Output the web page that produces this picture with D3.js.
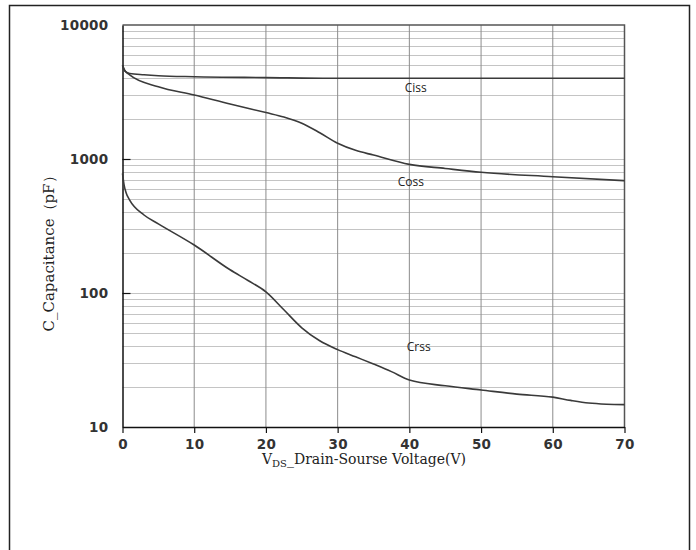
<!DOCTYPE html>
<html>
<head>
<meta charset="utf-8">
<script src="https://cdn.jsdelivr.net/npm/d3@7"></script>
<style>
  body { margin: 0; background: #fff; }
</style>
</head>
<body>
<svg id="chart" width="696" height="550"></svg>
<script>
// voltage points (V) and capacitances (pF)
const cissV = [0, 0.3, 1, 3, 5, 10, 20, 30, 40, 50, 60, 70];
const cissC = [5000, 4550, 4350, 4250, 4180, 4110, 4050, 4000, 4000, 4000, 4000, 4000];

const cossV = [0, 0.3, 1, 5, 10, 15, 20, 22.5, 25, 27.5, 30, 32.5, 35, 40, 45, 50, 60, 70];
const cossC = [5000, 4600, 4240, 3460, 3000, 2570, 2220, 2060, 1850, 1570, 1310, 1160, 1070, 912, 850, 796, 738, 689];

const crssV = [0, 0.2, 0.5, 1, 3, 5, 10, 15, 17.5, 20, 22.5, 25, 27.5, 30, 32.5, 35, 37.5, 40, 45, 50, 55, 60, 62.5, 65, 67.5, 70];
const crssC = [780, 650, 560, 494, 382, 328, 228, 149, 124, 102, 75, 55, 44, 37.8, 33.4, 29.5, 25.9, 22.4, 20.3, 18.9, 17.6, 16.7, 15.8, 15.1, 14.8, 14.7];

const xTicks = [0, 10, 20, 30, 40, 50, 60, 70];
const yTicks = [10, 100, 1000, 10000];

const labels = [
    { text: "Ciss", v: 40.9, c: 3390 },
    { text: "Coss", v: 40.2, c: 673 },
    { text: "Crss", v: 41.3, c: 39.5 }
];

const svg = d3.select("#chart");

// outer frame
svg.append("path")
    .attr("d", "M9.5,560V5.5H689.5V560")
    .attr("fill", "none")
    .attr("stroke", "#222")
    .attr("stroke-width", 1.5);

const x = d3.scaleLinear().domain([0, 70]).range([122.5, 624.5]);
const y = d3.scaleLog().domain([10, 10000]).range([427, 25]);

// horizontal grid (every 1..9 x decade)
const minor = [];
for (let d = 10; d < 10000; d *= 10)
    for (let m = 1; m < 10; m++) if (d * m > 10) minor.push(d * m);

svg.append("g")
    .selectAll("line")
    .data(minor)
    .enter().append("line")
    .attr("x1", x(0)).attr("x2", x(70))
    .attr("y1", d => Math.round(y(d)) + 0.5)
    .attr("y2", d => Math.round(y(d)) + 0.5)
    .attr("stroke", "#c4c4c4")
    .attr("stroke-width", 1);

// vertical grid
svg.append("g")
    .selectAll("line")
    .data(xTicks.slice(1, -1))
    .enter().append("line")
    .attr("x1", d => x(d)).attr("x2", d => x(d))
    .attr("y1", y(10000)).attr("y2", y(10))
    .attr("stroke", "#8c8c8c")
    .attr("stroke-width", 1);

// top and right borders of plot
svg.append("path")
    .attr("d", `M${x(0)},${y(10000)}H${x(70)}V${y(10)}`)
    .attr("fill", "none")
    .attr("stroke", "#555")
    .attr("stroke-width", 1.5);

// axes
const xAxis = svg.append("g")
    .attr("transform", `translate(0,${y(10)})`)
    .call(d3.axisBottom(x).tickValues(xTicks).tickSize(6).tickSizeOuter(0).tickPadding(6));

const yAxis = svg.append("g")
    .attr("transform", `translate(${x(0)},0)`)
    .call(d3.axisLeft(y).tickValues(yTicks).tickFormat(d3.format("d")).tickSize(6).tickSizeOuter(0).tickPadding(8));

// 1000 and 100 ticks cross the axis
yAxis.selectAll(".tick line").attr("x2", d => (d === 100 || d === 1000) ? 8 : 0);

[xAxis, yAxis].forEach(a => {
    a.select(".domain").attr("stroke", "#111").attr("stroke-width", 1.5);
    a.selectAll(".tick line").attr("stroke", "#111").attr("stroke-width", 1.2);
    a.selectAll("text")
        .attr("font-family", "DejaVu Sans, Verdana, sans-serif")
        .attr("font-size", 13.5)
        .attr("font-weight", "bold")
        .attr("letter-spacing", 0.3)
        .attr("fill", "#333");
});

// curves
const line = d3.line()
    .x(d => x(d[0]))
    .y(d => y(d[1]))
    .curve(d3.curveMonotoneX);

[[cissV, cissC], [cossV, cossC], [crssV, crssC]].forEach(([vs, cs]) => {
    svg.append("path")
        .datum(d3.zip(vs, cs))
        .attr("d", line)
        .attr("fill", "none")
        .attr("stroke", "#3a3a3a")
        .attr("stroke-width", 1.6);
});

// curve labels
svg.append("g")
    .selectAll("text")
    .data(labels)
    .enter().append("text")
    .attr("x", d => x(d.v))
    .attr("y", d => y(d.c))
    .attr("text-anchor", "middle")
    .attr("dy", "0.35em")
    .attr("font-family", "Open Sans, sans-serif")
    .attr("font-size", 12)
    .attr("fill", "#222")
    .text(d => d.text);

// axis titles
const xTitle = svg.append("text")
    .attr("x", 364)
    .attr("y", 464)
    .attr("text-anchor", "middle")
    .attr("font-family", "DejaVu Serif, serif")
    .attr("font-size", 14)
    .attr("fill", "#222");
xTitle.append("tspan").text("V");
xTitle.append("tspan").attr("font-size", 10).attr("dy", 3).text("DS");
xTitle.append("tspan").attr("dy", -3).text("_Drain-Sourse Voltage(V)");

svg.append("text")
    .attr("transform", "translate(54,250) rotate(-90)")
    .attr("text-anchor", "middle")
    .attr("font-family", "DejaVu Serif, serif")
    .attr("font-size", 15)
    .attr("fill", "#222")
    .text("C_Capacitance（pF）");
</script>
</body>
</html>
